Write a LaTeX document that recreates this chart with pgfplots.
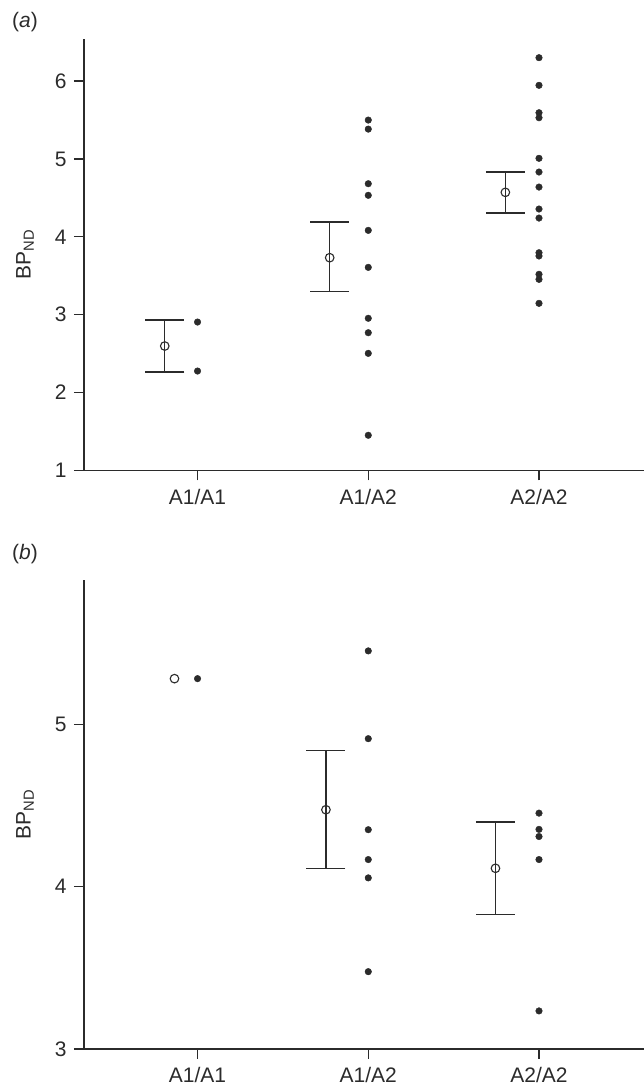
\documentclass[border=0pt]{standalone}
\usepackage{fontspec}
\setmainfont{Liberation Sans}
\usepackage{pgfplots}
\pgfplotsset{compat=1.18}
\definecolor{ink}{HTML}{2B2B2B}

\newcommand{\lblfont}{\fontsize{21}{24}\selectfont}

\pgfplotsset{
  bpstyle/.style={
    scale only axis, width=560pt,
    axis x line=bottom, axis y line=left,
    axis line style={-, ink, line width=1.2pt},
    xmin=0.335, xmax=3.615,
    xtick={1,2,3}, xticklabels={A1/A1, A1/A2, A2/A2},
    tick align=outside, major tick length=10pt,
    tick style={ink, line width=1.2pt},
    ticklabel style={font=\lblfont, text=ink},
    xticklabel style={yshift=-5pt},
    yticklabel style={xshift=-4pt},
    /pgf/number format/assume math mode=true,
    ylabel={BP\textsubscript{ND}},
    ylabel style={font=\lblfont, text=ink,
      at={(axis description cs:-0.1054,0.5)}, anchor=center},
    clip=false,
  },
  dots/.style={only marks, mark=*, mark size=3.3pt, color=ink},
  means/.style={only marks, mark=o, mark size=4.3pt, color=ink,
    mark options={line width=1.1pt},
    error bars/.cd, y dir=both, y explicit,
    error mark=|, error mark options={mark size=19.5pt, line width=1.3pt},
    error bar style={line width=1.3pt}},
}

\begin{document}
\begin{tikzpicture}
\useasboundingbox (0pt,0pt) rectangle (644pt,1088pt);

% panel (a)
\begin{axis}[bpstyle, at={(84pt,617.5pt)}, anchor=south west,
  height=431.5pt, ymin=1, ymax=6.54, ytick={1,2,3,4,5,6}]
\addplot[dots] coordinates {(1,2.906)(1,2.277)};
\addplot[dots] coordinates {
  (2,5.499)(2,5.383)(2,4.682)(2,4.533)(2,4.083)
  (2,3.608)(2,2.954)(2,2.769)(2,2.504)(2,1.452)};
\addplot[dots] coordinates {
  (3,6.300)(3,5.945)(3,5.593)(3,5.529)(3,5.008)(3,4.832)(3,4.639)
  (3,4.357)(3,4.241)(3,3.796)(3,3.754)(3,3.519)(3,3.454)(3,3.146)};
% group means with error bars
\addplot[means] coordinates {
  (0.808,2.598) += (0,0.334) -= (0,0.334)
  (1.774,3.732) += (0,0.458) -= (0,0.437)
  (2.803,4.571) += (0,0.261) -= (0,0.265)};
\end{axis}

% panel (b)
\begin{axis}[bpstyle, at={(84pt,39.1pt)}, anchor=south west,
  height=468.9pt, ymin=3, ymax=5.89, ytick={3,4,5}]
\addplot[dots] coordinates {(1,5.282)};
\addplot[dots] coordinates {
  (2,5.453)(2,4.912)(2,4.351)(2,4.167)(2,4.054)(2,3.476)};
\addplot[dots] coordinates {
  (3,4.453)(3,4.353)(3,4.309)(3,4.167)(3,3.234)};
\addplot[only marks, mark=o, mark size=4.3pt, color=ink,
  mark options={line width=1.1pt}] coordinates {(0.865,5.282)};
\addplot[means] coordinates {
  (1.752,4.474) += (0,0.363) -= (0,0.361)
  (2.745,4.113) += (0,0.286) -= (0,0.284)};
\end{axis}

\node[anchor=west, text=ink, font=\lblfont, inner sep=0pt] at (12pt,1066pt) {(\textit{a})};
\node[anchor=west, text=ink, font=\lblfont, inner sep=0pt] at (12pt,534pt) {(\textit{b})};
\end{tikzpicture}
\end{document}
